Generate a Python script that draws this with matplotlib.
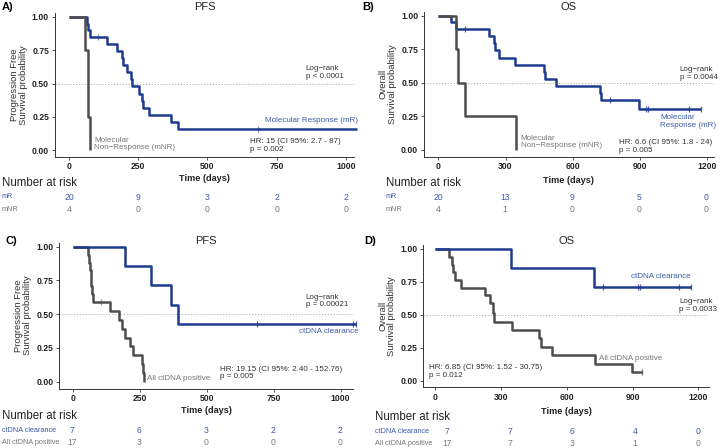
import matplotlib
matplotlib.use("Agg")
import matplotlib.pyplot as plt
import matplotlib.transforms as mtransforms

plt.rcParams["font.family"] = ["Liberation Sans", "DejaVu Sans"]

BLUE = "#1d3b8f"
BLUE_TXT = "#3c5aa6"
GREY = "#4d4d4d"
GREY_TXT = "#777777"
AXIS = "#333333"

# ---- A) PFS, molecular response vs non-response
a_mr_t = [0, 65, 70, 75, 136, 174, 190, 196, 208, 223, 228, 254, 262, 266, 290, 367, 395]
a_mr_s = [1.0, 0.95, 0.90, 0.85, 0.797, 0.744, 0.691, 0.638, 0.584, 0.531, 0.478,
          0.425, 0.372, 0.319, 0.266, 0.213, 0.159]
a_mr_end = 1040
a_mr_cens = [103, 682]
a_mnr_t = [0, 58, 68, 70, 75]
a_mnr_s = [1.0, 0.75, 0.50, 0.25, 0.0]
a_mnr_end = 75
a_mnr_cens = []
a_ticks = [0, 250, 500, 750, 1000]
a_risk_1 = [20, 9, 3, 2, 2]
a_risk_2 = [4, 0, 0, 0, 0]

# ---- B) OS, molecular response vs non-response
b_mr_t = [0, 58, 80, 225, 247, 255, 269, 344, 470, 478, 525, 723, 725, 894]
b_mr_s = [1.0, 0.95, 0.90, 0.847, 0.794, 0.741, 0.688, 0.635, 0.582, 0.529, 0.476,
          0.423, 0.370, 0.309]
b_mr_end = 1170
b_mr_cens = [119, 767, 927, 934, 1118, 1170]
b_mnr_t = [0, 80, 86, 120, 348]
b_mnr_s = [1.0, 0.75, 0.50, 0.25, 0.0]
b_mnr_end = 348
b_mnr_cens = []
b_ticks = [0, 300, 600, 900, 1200]
b_risk_1 = [20, 13, 9, 5, 0]
b_risk_2 = [4, 1, 0, 0, 0]

# ---- C) PFS, ctDNA clearance vs all ctDNA positive
c_cl_t = [0, 197, 291, 367, 392]
c_cl_s = [1.0, 0.857, 0.714, 0.571, 0.429]
c_cl_end = 1057
c_cl_cens = [689, 1048, 1057]
c_pos_t = [0, 58, 61, 64, 67, 70, 72, 75, 139, 174, 183, 195, 214, 226, 257, 261, 266]
c_pos_s = [1.0, 0.941, 0.882, 0.824, 0.765, 0.706, 0.647, 0.588, 0.523, 0.458, 0.392,
           0.327, 0.261, 0.196, 0.131, 0.065, 0.0]
c_pos_end = 266
c_pos_cens = [104]
c_ticks = [0, 250, 500, 750, 1000]
c_risk_1 = [7, 6, 3, 2, 2]
c_risk_2 = [17, 3, 0, 0, 0]

# ---- D) OS, ctDNA clearance vs all ctDNA positive
d_cl_t = [0, 347, 726]
d_cl_s = [1.0, 0.857, 0.714]
d_cl_end = 1167
d_cl_cens = [767, 924, 932, 1114, 1167]
d_pos_t = [0, 62, 78, 84, 90, 118, 228, 251, 263, 269, 350, 476, 482, 532, 730, 897]
d_pos_s = [1.0, 0.941, 0.882, 0.824, 0.765, 0.706, 0.647, 0.588, 0.512, 0.448, 0.385,
           0.322, 0.257, 0.193, 0.127, 0.063]
d_pos_end = 942
d_pos_cens = [942]
d_ticks = [0, 300, 600, 900, 1200]
d_risk_1 = [7, 7, 6, 4, 0]
d_risk_2 = [17, 7, 3, 1, 0]

fig = plt.figure(figsize=(7.2, 4.48), dpi=100)


def px(x, y):
    # figure pixel (from top-left) -> figure fraction
    return x / 720, 1 - y / 448


def km(ax, t, s, end, cens, color, mk, z):
    ax.step(list(t) + [end], list(s) + [s[-1]], where="post", color=color,
            lw=1.8, zorder=z, clip_on=False, solid_capstyle="butt")
    cy = []
    for c in cens:
        v = s[0]
        for ti, si in zip(t, s):
            if ti <= c:
                v = si
        cy.append(v)
    ax.plot(cens, cy, ls="none", marker=mk, ms=5, mew=0.9, color=color,
            alpha=0.55 if mk == "+" else 0.8, zorder=z + 0.5, clip_on=False)


def panel(rect, xlim, ticks, title, ylabel, title_y, time_y):
    ax = fig.add_axes(rect)
    ax.set_xlim(*xlim)
    ax.set_ylim(-0.05, 1.03)
    ax.set_xticks(ticks)
    ax.set_yticks([0, 0.25, 0.5, 0.75, 1.0])
    ax.set_yticklabels(["0.00", "0.25", "0.50", "0.75", "1.00"])
    for sp in ["top", "right"]:
        ax.spines[sp].set_visible(False)
    for sp in ["left", "bottom"]:
        ax.spines[sp].set_color(AXIS)
        ax.spines[sp].set_linewidth(0.7)
    ax.tick_params(length=2.5, width=0.6, color=AXIS, labelsize=6.2,
                   labelcolor="#222222", pad=1.5)
    for lab in ax.get_xticklabels() + ax.get_yticklabels():
        lab.set_fontweight("bold")
    ax.axhline(0.5, color="#aaaaaa", lw=0.6, ls=(0, (1.5, 2)), zorder=1)
    ax.set_ylabel(ylabel, fontsize=6.8, color="#333333", labelpad=3, linespacing=1.0)
    x0, x1 = rect[0], rect[0] + rect[2]
    fig.text((x0 + x1) / 2, 1 - title_y / 448, title, ha="center", va="center",
             fontsize=8, color="#222222")
    fig.text((x0 + x1) / 2, 1 - time_y / 448, "Time (days)", ha="center",
             va="center", fontsize=6.6, fontweight="bold", color="#222222")
    return ax


def risk(x_left, x_right, xlim, ticks, r1, r2, lab1, lab2, lx, y0):
    # invisible axis carrying the time scale of the risk table
    rax = fig.add_axes([x_left / 720, 0, (x_right - x_left) / 720, 1])
    rax.set_xlim(*xlim)
    rax.axis("off")
    tr = mtransforms.blended_transform_factory(rax.transData, fig.transFigure)
    fig.text(*px(lx, y0), "Number at risk", fontsize=8.3, color="#222222", va="center")
    fig.text(*px(lx, y0 + 14), lab1, fontsize=5.2, color=BLUE_TXT, va="center")
    fig.text(*px(lx, y0 + 26), lab2, fontsize=5.2, color=GREY_TXT, va="center")
    for t, a, b in zip(ticks, r1, r2):
        rax.text(t, 1 - (y0 + 14) / 448, str(a), transform=tr, ha="center",
                 va="center", fontsize=6.2, color=BLUE_TXT)
        rax.text(t, 1 - (y0 + 26) / 448, str(b), transform=tr, ha="center",
                 va="center", fontsize=6.2, color=GREY_TXT)


def note(ax, x, y, s, color="#333333"):
    ax.text(x, y, s, fontsize=5.8, color=color, va="center", ha="left",
            clip_on=False, linespacing=1.15)


# ---------------- A
axA = panel([0.0758, 0.6502, 0.4163, 0.3208], (-52, 1030), a_ticks, "PFS",
            "Progression Free\nSurvival probability", 7, 178)
km(axA, a_mr_t, a_mr_s, a_mr_end, a_mr_cens, BLUE, "+", 3)
km(axA, a_mnr_t, a_mnr_s, a_mnr_end, a_mnr_cens, GREY, "+", 4)
note(axA, 854, 0.58, "Log\u2212rank\np < 0.0001")
note(axA, 708, 0.22, "Molecular Response (mR)", BLUE_TXT)
note(axA, 90, 0.045, "Molecular\nNon\u2212Response (mNR)", GREY_TXT)
note(axA, 652, 0.035, "HR: 15 (CI 95%: 2.7 - 87)\np = 0.002")
fig.text(*px(2, 7), "A)", fontsize=8, fontweight="bold", va="center")
risk(69, 346, (0, 1000), a_ticks, a_risk_1, a_risk_2, "mR", "mNR", 2, 183)

# ---------------- B
axB = panel([0.5885, 0.6502, 0.4026, 0.3237], (-65, 1228), b_ticks, "OS",
            "Overall\nSurvival probability", 7, 180)
km(axB, b_mr_t, b_mr_s, b_mr_end, b_mr_cens, BLUE, "|", 3)
km(axB, b_mnr_t, b_mnr_s, b_mnr_end, b_mnr_cens, GREY, "|", 4)
note(axB, 1076, 0.57, "Log\u2212rank\np = 0.0044")
note(axB, 991, 0.215, "Molecular\nResponse (mR)", BLUE_TXT)
note(axB, 368, 0.06, "Molecular\nNon\u2212Response (mNR)", GREY_TXT)
note(axB, 808, 0.028, "HR: 6.6 (CI 95%: 1.8 - 24)\np = 0.005")
fig.text(*px(362, 7), "B)", fontsize=8, fontweight="bold", va="center")
risk(438, 706, (0, 1200), b_ticks, b_risk_1, b_risk_2, "mR", "mNR", 386, 183)

# ---------------- C
axC = panel([0.0819, 0.1328, 0.4083, 0.3257], (-51, 1046), c_ticks, "PFS",
            "Progression Free\nSurvival probability", 241, 410)
km(axC, c_pos_t, c_pos_s, c_pos_end, c_pos_cens, GREY, "+", 3)
km(axC, c_cl_t, c_cl_s, c_cl_end, c_cl_cens, BLUE, "|", 4)
note(axC, 870, 0.597, "Log\u2212rank\np = 0.00021")
note(axC, 844, 0.373, "ctDNA clearance", BLUE_TXT)
note(axC, 276, 0.027, "All ctDNA positive", GREY_TXT)
note(axC, 549, 0.065, "HR: 19.15 (CI 95%: 2.40 - 152.76)\np = 0.005")
fig.text(*px(6, 241), "C)", fontsize=8, fontweight="bold", va="center")
risk(72, 340, (0, 1000), c_ticks, c_risk_1, c_risk_2, "ctDNA clearance",
     "All ctDNA positive", 2, 416)

# ---------------- D
axD = panel([0.5874, 0.1355, 0.3978, 0.3176], (-55, 1250), d_ticks, "OS",
            "Overall\nSurvival probability", 241, 411)
km(axD, d_pos_t, d_pos_s, d_pos_end, d_pos_cens, GREY, "|", 3)
km(axD, d_cl_t, d_cl_s, d_cl_end, d_cl_cens, BLUE, "|", 4)
note(axD, 1112, 0.57, "Log\u2212rank\np = 0.0033")
note(axD, 892, 0.79, "ctDNA clearance", BLUE_TXT)
note(axD, 747, 0.17, "All ctDNA positive", GREY_TXT)
note(axD, -27, 0.071, "HR: 6.85 (CI 95%: 1.52 - 30.75)\np = 0.012")
fig.text(*px(364, 241), "D)", fontsize=8, fontweight="bold", va="center")
risk(447, 698, (0, 1200), d_ticks, d_risk_1, d_risk_2, "ctDNA clearance",
     "All ctDNA positive", 375, 417)

fig.savefig("out.png", dpi=100, facecolor="white")
